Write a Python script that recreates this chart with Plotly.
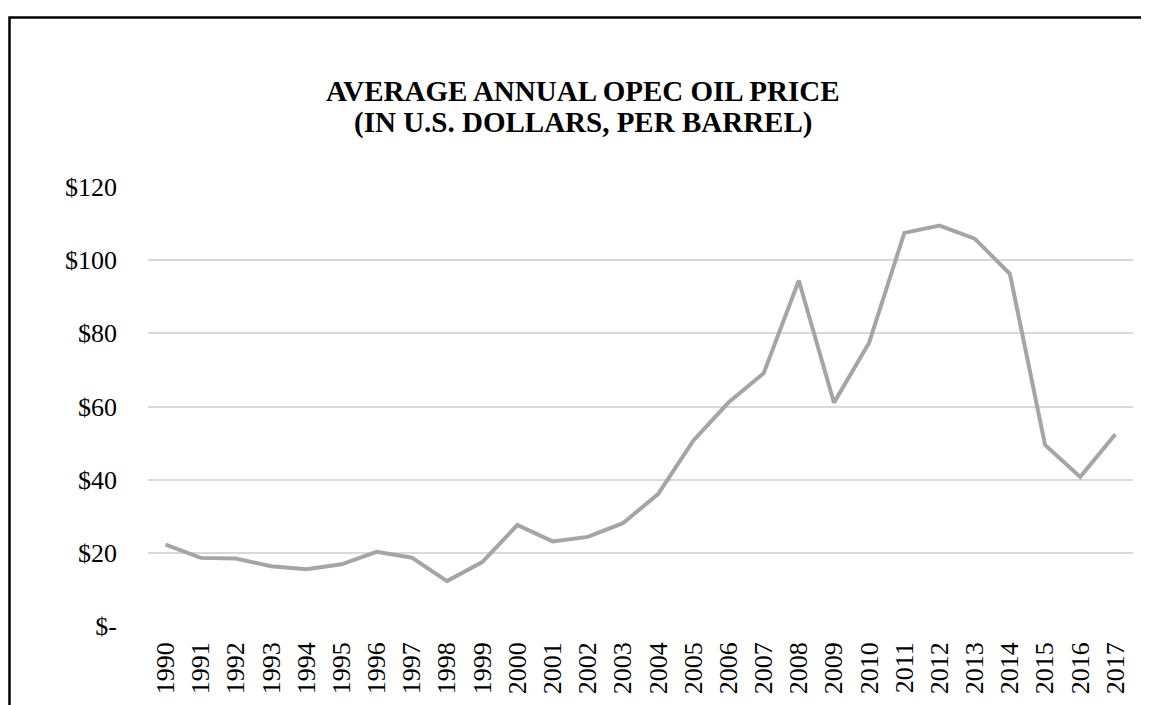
import plotly.graph_objects as go

years = [str(y) for y in range(1990, 2018)]
prices = [22.26, 18.62, 18.44, 16.33, 15.53, 16.86, 20.29, 18.68, 12.28, 17.48,
          27.60, 23.12, 24.36, 28.10, 36.05, 50.64, 61.08, 69.08, 94.45, 61.06,
          77.45, 107.46, 109.45, 105.87, 96.29, 49.49, 40.76, 52.43]
y_tickvals = [0, 20, 40, 60, 80, 100, 120]
y_ticktext = ["$-", "$20", "$40", "$60", "$80", "$100", "$120"]
title_lines = ["AVERAGE ANNUAL OPEC OIL PRICE", "(IN U.S. DOLLARS, PER BARREL)"]

FONT = "Liberation Serif, Times New Roman, serif"

# page body has an 8px margin; figure is sized to fit the window
W, H = 1141, 697
L, R, T, B = 140, 16, 179, 79
PW, PH = W - L - R, H - T - B

fig = go.Figure()
fig.add_trace(go.Scatter(
    x=years, y=prices, mode="lines",
    line=dict(color="#A5A5A5", width=4),
    hoverinfo="x+y", showlegend=False,
))

annotations = []
for i, (line, fy) in enumerate(zip(title_lines, [82.5, 114.5])):
    annotations.append(dict(
        text="<b>" + line + "</b>", showarrow=False,
        xref="paper", yref="paper",
        x=(574.5 - L) / PW, xanchor="center",
        y=(PH + T - fy) / PH, yanchor="middle",
        font=dict(family=FONT, size=29, color="black"),
    ))

fig.update_layout(
    width=W, height=H,
    margin=dict(l=L, r=R, t=T, b=B),
    paper_bgcolor="white", plot_bgcolor="white",
    font=dict(family=FONT, size=26, color="black"),
    annotations=annotations,
    xaxis=dict(
        type="category", range=[-0.5, 27.5],
        showgrid=False, showline=False, zeroline=False,
        tickangle=-90, ticks="", ticklabelstandoff=10,
        tickfont=dict(family=FONT, size=26, color="black"),
    ),
    yaxis=dict(
        range=[0, 120], tickvals=y_tickvals, ticktext=y_ticktext,
        showgrid=True, gridcolor="#D9D9D9", gridwidth=2,
        zeroline=False, showline=False, ticks="",
        ticklabelstandoff=30,
        tickfont=dict(family=FONT, size=26, color="black"),
    ),
    shapes=[dict(
        type="rect", xref="paper", yref="paper",
        x0=(1.5 - L) / PW, x1=(1170 - L) / PW,
        y0=(PH + T - 730) / PH, y1=(PH + T - 9.5) / PH,
        line=dict(color="black", width=2.5), fillcolor="rgba(0,0,0,0)",
        layer="above",
    )],
)

fig.write_html("out.html")
